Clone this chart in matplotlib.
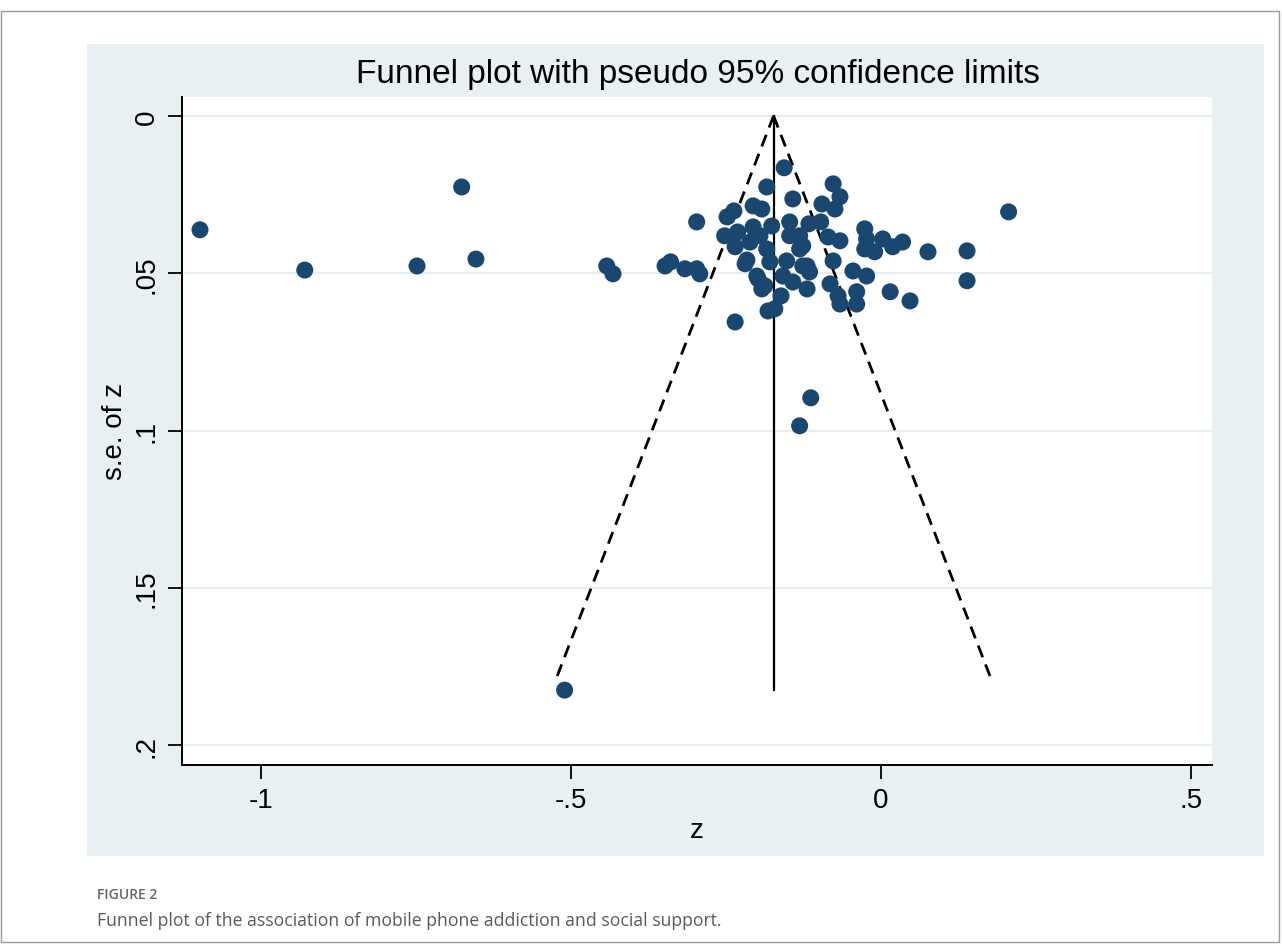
import numpy as np
import matplotlib
matplotlib.use("Agg")
import matplotlib.pyplot as plt
from matplotlib.patches import Rectangle

plt.rcParams['font.family'] = ['Liberation Sans', 'DejaVu Sans']

# effect sizes (z) and standard errors
z = [-1.098, -0.929, -0.748, -0.676, -0.653, -0.442, -0.432, -0.348, -0.339, -0.316,
     -0.297, -0.292, -0.297, -0.510,
     -0.248, -0.237, -0.206, -0.192, -0.184, -0.252, -0.231, -0.206, -0.195, -0.235,
     -0.219, -0.216, -0.198, -0.187, -0.182, -0.235, -0.176, -0.211, -0.184, -0.179,
     -0.192, -0.200,
     -0.156, -0.142, -0.147, -0.147, -0.131, -0.152, -0.126, -0.158, -0.142, -0.119,
     -0.161, -0.171, -0.131, -0.126, -0.119, -0.113, -0.131, -0.115,
     -0.116, -0.097, -0.077, -0.066, -0.095, -0.074, -0.085, -0.066, -0.077, -0.045,
     -0.023, -0.082, -0.069, -0.066, -0.039, -0.039, -0.026, -0.023, -0.026, -0.010,
     0.003, 0.019, 0.035, 0.076, 0.139, 0.139, 0.015, 0.047, 0.206]
se = [0.0362, 0.0490, 0.0477, 0.0226, 0.0455, 0.0477, 0.0502, 0.0477, 0.0464, 0.0486,
      0.0486, 0.0502, 0.0337, 0.1825,
      0.0321, 0.0302, 0.0286, 0.0296, 0.0226, 0.0381, 0.0369, 0.0353, 0.0381, 0.0416,
      0.0470, 0.0458, 0.0518, 0.0540, 0.0620, 0.0655, 0.0350, 0.0401, 0.0423, 0.0464,
      0.0550, 0.0509,
      0.0165, 0.0264, 0.0337, 0.0381, 0.0423, 0.0461, 0.0477, 0.0509, 0.0528, 0.0550,
      0.0572, 0.0613, 0.0381, 0.0413, 0.0477, 0.0896, 0.0985, 0.0496,
      0.0343, 0.0337, 0.0216, 0.0257, 0.0280, 0.0296, 0.0385, 0.0397, 0.0461, 0.0493,
      0.0509, 0.0534, 0.0572, 0.0598, 0.0559, 0.0598, 0.0359, 0.0391, 0.0423, 0.0432,
      0.0391, 0.0416, 0.0401, 0.0432, 0.0429, 0.0524, 0.0559, 0.0588, 0.0305]

pooled = -0.173
se_max = max(se)
se_limit = 0.180   # the dashed limits stop a little above the last study

xticks = [-1, -0.5, 0, 0.5]
xticklabels = ["-1", "-.5", "0", ".5"]
yticks = [0, 0.05, 0.1, 0.15, 0.2]
yticklabels = ["0", ".05", ".1", ".15", ".2"]

fig = plt.figure(figsize=(12.82, 9.45), dpi=100)
fig.patch.set_facecolor("white")

# outer frame and graph region (behind the axes)
fig.patches.append(Rectangle((0.001, 0.002), 0.997, 0.985, transform=fig.transFigure,
                             fill=False, edgecolor="#9a9a9a", lw=1.0, zorder=-2))
fig.patches.append(Rectangle((87 / 1282, 1 - 857 / 945), (1264 - 87) / 1282, (857 - 45) / 945,
                             transform=fig.transFigure, facecolor="#e9f0f3", edgecolor="none",
                             zorder=-1))

ax = fig.add_axes([182 / 1282, 1 - 766 / 945, (1212 - 182) / 1282, (766 - 98) / 945])
ax.set_facecolor("white")

for t in yticks:
    ax.axhline(t, color="#e6eef2", lw=1.5, zorder=0)

# pseudo 95% limits
s = np.array([0, se_limit])
ax.plot(pooled - 1.96 * s, s, color="black", lw=2.0, ls=(0, (4.5, 2.8)), zorder=2)
ax.plot(pooled + 1.96 * s, s, color="black", lw=2.0, ls=(0, (4.5, 2.8)), zorder=2)
ax.plot([pooled, pooled], [0, se_max], color="black", lw=1.6, zorder=2)

ax.scatter(z, se, s=150, color="#1a476f", edgecolors="none", zorder=3)

ax.set_xlim(-1.127, 0.534)
ax.set_ylim(0.2063, -0.006)

ax.set_xticks(xticks)
ax.set_xticklabels(xticklabels)
ax.set_yticks(yticks)
ax.set_yticklabels(yticklabels, rotation=90, va="center")
ax.tick_params(axis="both", labelsize=20, length=10, width=1.3, color="black", pad=6)

for side in ["top", "right"]:
    ax.spines[side].set_visible(False)
for side in ["left", "bottom"]:
    ax.spines[side].set_linewidth(1.4)

ax.set_xlabel("z", fontsize=20, labelpad=3)
ax.set_ylabel("s.e. of z", fontsize=20, labelpad=4)

fig.text(698 / 1282, 1 - 75 / 945, "Funnel plot with pseudo 95% confidence limits",
         ha="center", va="center", fontsize=24)

fig.text(97 / 1282, 1 - 895 / 945, "FIGURE 2", ha="left", va="center", fontsize=10,
         color="#666666", weight="semibold", family=["Open Sans", "DejaVu Sans"])
fig.text(97 / 1282, 1 - 921 / 945,
         "Funnel plot of the association of mobile phone addiction and social support.",
         ha="left", va="center", fontsize=12.7, color="#5a5a5a", family=["Open Sans", "DejaVu Sans"])

fig.savefig("out.png", dpi=100)
